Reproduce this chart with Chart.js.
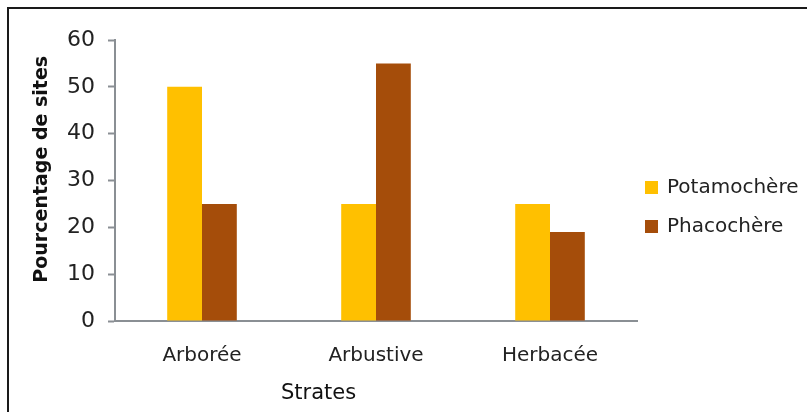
<!DOCTYPE html>
<html>
<head>
<meta charset="utf-8">
<script src="https://cdn.jsdelivr.net/npm/chart.js@4/dist/chart.umd.min.js"></script>
<style>
  html, body { margin: 0; padding: 0; background: #fff; }
  #wrap { width: 807px; height: 412px; position: relative; }
</style>
</head>
<body>
<div id="wrap"><canvas id="chart"></canvas></div>
<script>
const strates = ['Arborée', 'Arbustive', 'Herbacée'];
const seriesNames = ['Potamochère', 'Phacochère'];
const potamochere = [50, 25, 25];
const phacochere = [25, 55, 19];
const yMin = 0, yMax = 60, yStep = 10;
const xTitle = 'Strates';
const yTitle = 'Pourcentage de sites';

const FONT = "'DejaVu Sans', sans-serif";
const colors = ['#FFC000', '#A54D0A'];

// frame on the top and left edges, both axis titles (off-centre in the
// original) and the legend, drawn by hand so the spacing can match
const decorPlugin = {
  id: 'decor',
  beforeDraw(chart) {
    const ctx = chart.ctx;
    ctx.save();
    ctx.fillStyle = '#fff';
    ctx.fillRect(0, 0, chart.width, chart.height);
    ctx.strokeStyle = '#1a1a1a';
    ctx.lineWidth = 2;
    ctx.beginPath();
    ctx.moveTo(8, chart.height);
    ctx.lineTo(8, 8);
    ctx.lineTo(chart.width, 8);
    ctx.stroke();
    ctx.restore();
  },
  afterDraw(chart) {
    const ctx = chart.ctx;
    const area = chart.chartArea;
    ctx.save();
    ctx.fillStyle = '#111';
    ctx.textAlign = 'center';
    ctx.textBaseline = 'middle';
    ctx.font = '21px ' + FONT;
    ctx.fillText(xTitle, area.left + (area.right - area.left) * 0.39, 394);

    ctx.save();
    ctx.translate(42, area.top + (area.bottom - area.top) * 0.46);
    ctx.rotate(-Math.PI / 2);
    ctx.font = 'bold 19px ' + FONT;
    ctx.fillText(yTitle, 0, 0);
    ctx.restore();

    ctx.textAlign = 'left';
    ctx.font = '20px ' + FONT;
    chart.data.datasets.forEach((ds, i) => {
      const y = 188 + i * 39;
      ctx.fillStyle = ds.backgroundColor;
      ctx.fillRect(area.right + 8, y - 7, 13, 13);
      ctx.fillStyle = '#222';
      ctx.fillText(ds.label, area.right + 30, y);
    });
    ctx.restore();
  }
};

new Chart(document.getElementById('chart'), {
  type: 'bar',
  data: {
    labels: strates,
    datasets: [
      { label: seriesNames[0], data: potamochere, backgroundColor: colors[0] },
      { label: seriesNames[1], data: phacochere, backgroundColor: colors[1] }
    ]
  },
  options: {
    responsive: true,
    maintainAspectRatio: false,
    animation: false,
    datasets: { bar: { categoryPercentage: 0.4, barPercentage: 1.0 } },
    layout: { padding: { left: 28, top: 40, right: 170, bottom: 37 } },
    plugins: {
      tooltip: { enabled: false },
      legend: { display: false }
    },
    scales: {
      x: {
        grid: { display: false, drawTicks: false },
        border: { color: '#8a8f94', width: 2 },
        ticks: { color: '#222', padding: 23, font: { family: FONT, size: 20 } },
        afterFit(scale) { scale.height = 54; }
      },
      y: {
        min: yMin, max: yMax,
        ticks: { stepSize: yStep, color: '#222', padding: 13, font: { family: FONT, size: 22 } },
        grid: { display: true, drawOnChartArea: false, tickLength: 7, color: '#8a8f94', tickWidth: 2 },
        border: { color: '#8a8f94', width: 2 },
        afterFit(scale) { scale.width = 87; }
      }
    }
  },
  plugins: [decorPlugin]
});
</script>
</body>
</html>
